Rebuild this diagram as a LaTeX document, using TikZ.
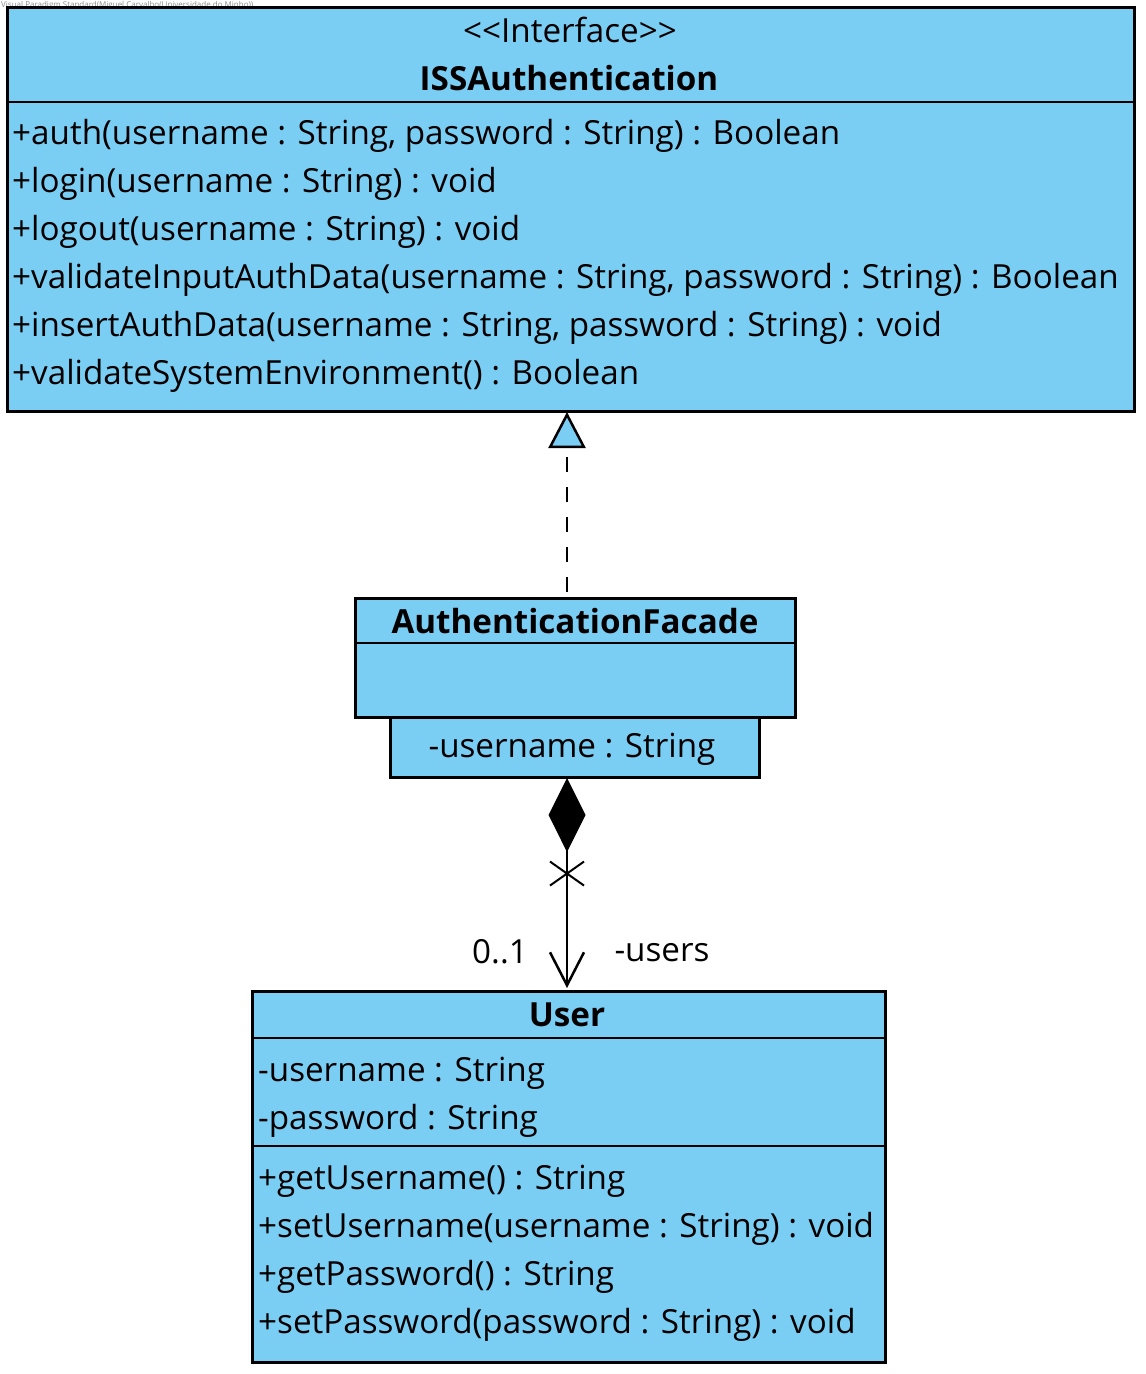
\documentclass[tikz,border=0pt]{standalone}
\usepackage{fontspec}
\setmainfont{Open Sans}
\usetikzlibrary{arrows.meta}
\definecolor{boxblue}{RGB}{122,206,244}
\begin{document}
\begin{tikzpicture}[x=1pt,y=-1pt,
  cls/.style={draw=black, line width=3pt, fill=boxblue, inner sep=0pt, outer sep=0pt, anchor=north west},
  txt/.style={font=\fontsize{33.2}{33.2}\selectfont, inner sep=0pt, anchor=base west},
  ctxt/.style={font=\fontsize{33.2}{33.2}\selectfont, inner sep=0pt, anchor=base},
  btxt/.style={font=\fontsize{33.2}{33.2}\selectfont\bfseries, inner sep=0pt, anchor=base},
  divider/.style={line width=2.5pt}
]
\useasboundingbox (0,0) rectangle (1146,1374);
\node[font=\fontsize{8}{8}\selectfont, text=black!45, inner sep=0pt, anchor=north west] (wm) at (1,1) {Visual Paradigm Standard(Miguel Carvalho(Universidade do Minho))};

% ISSAuthentication
\node[cls, minimum width=1127pt, minimum height=404pt] (iss) at (7,7) {};
\draw[divider] (7,102) coordinate (issd1) -- (1134,102) coordinate (issd2);
\node[ctxt] (isst) at (570,42) {<\kern0pt<Interface>\kern0pt>};
\node[btxt] (issn) at (569,90) {ISSAuthentication};
\node[txt] (m1) at (12,144) {+auth(username : String, password : String) : Boolean};
\node[txt] (m2) at (12,192) {+login(username : String) : void};
\node[txt] (m3) at (12,240) {+logout(username : String) : void};
\node[txt] (m4) at (12,288) {+validateInputAuthData(username : String, password : String) : Boolean};
\node[txt] (m5) at (12,336) {+insertAuthData(username : String, password : String) : void};
\node[txt] (m6) at (12,384) {+validateSystemEnvironment() : Boolean};

% AuthenticationFacade
\node[cls, minimum width=440pt, minimum height=119pt] (fac) at (355,598) {};
\draw[divider] (355,643) coordinate (facd1) -- (795,643) coordinate (facd2);
\node[btxt] (facn) at (575,633) {AuthenticationFacade};
\node[cls, minimum width=369pt, minimum height=60pt] (faca) at (390,717) {};
\node[ctxt] (facat) at (572,757) {-username : String};

% User
\node[cls, minimum width=633pt, minimum height=371pt] (user) at (252,991) {};
\draw[divider] (252,1038) coordinate (ud1) -- (885,1038) coordinate (ud2);
\draw[divider] (252,1146) coordinate (ud3) -- (885,1146) coordinate (ud4);
\node[btxt] (usern) at (567,1026) {User};
\node[txt] (ua1) at (258,1081) {-username : String};
\node[txt] (ua2) at (258,1129) {-password : String};
\node[txt] (um1) at (258,1189) {+getUsername() : String};
\node[txt] (um2) at (258,1237) {+setUsername(username : String) : void};
\node[txt] (um3) at (258,1285) {+getPassword() : String};
\node[txt] (um4) at (258,1333) {+setPassword(password : String) : void};

% Realization
\coordinate (rstart) at (567,592);
\coordinate (rend) at (567,412);
\draw[line width=2.5pt, dash pattern=on 15pt off 15pt,
  -{Triangle[length=36pt,width=37pt,fill=boxblue,line width=2.5pt]}] (rstart) -- (rend);

% Composition
\coordinate (cstart) at (567,778);
\coordinate (cend) at (567,988);
\draw[line width=2.5pt,
  {Diamond[length=74pt,width=37pt]}-{Straight Barb[length=33pt,width=34pt,line width=2.5pt]}] (cstart) -- (cend)
  coordinate[pos=0.455] (xm);
\draw[line width=2pt] ([xshift=-17pt,yshift=-12pt]xm) -- ([xshift=17pt,yshift=12pt]xm)
  ([xshift=-17pt,yshift=12pt]xm) -- ([xshift=17pt,yshift=-12pt]xm);
\node[ctxt] (mult) at (500,963) {0..1};
\node[ctxt] (role) at (662,961) {-users};
\end{tikzpicture}
\end{document}
